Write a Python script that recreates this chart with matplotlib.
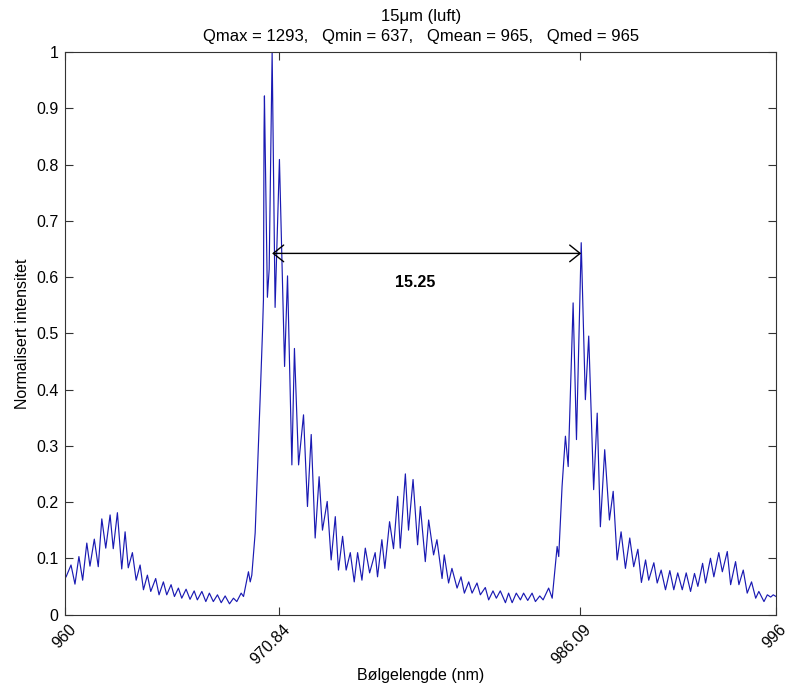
import numpy as np
import matplotlib.pyplot as plt
import matplotlib.transforms as mtransforms

plt.rcParams['font.family'] = ['Liberation Sans', 'DejaVu Sans']

wl = [960.03, 960.28, 960.48, 960.68, 960.87, 961.08, 961.24, 961.46, 961.66, 961.84,
      962.04, 962.26, 962.42, 962.63, 962.85, 963.02, 963.18, 963.39, 963.58, 963.78,
      963.95, 964.15, 964.32, 964.57, 964.74, 964.96, 965.13, 965.35, 965.52, 965.72,
      965.89, 966.11, 966.31, 966.52, 966.68, 966.91, 967.11, 967.29, 967.49, 967.70,
      967.89, 968.09, 968.31, 968.51, 968.68, 968.90, 969.02, 969.27, 969.36, 969.44,
      969.61, 969.75, 969.86, 969.98, 970.03, 970.06, 970.08, 970.23, 970.32, 970.47,
      970.62, 970.84, 971.10, 971.25, 971.47, 971.60, 971.81, 972.06, 972.26, 972.45,
      972.65, 972.85, 973.02, 973.26, 973.46, 973.67, 973.83, 974.04, 974.22, 974.43,
      974.63, 974.80, 975.02, 975.19, 975.41, 975.69, 975.81, 976.03, 976.18, 976.42,
      976.62, 976.83, 976.96, 977.22, 977.38, 977.61, 977.84, 977.98, 978.23, 978.40,
      978.65, 978.82, 979.08, 979.19, 979.41, 979.58, 979.84, 980.04, 980.21, 980.43,
      980.60, 980.85, 981.02, 981.27, 981.44, 981.66, 981.83, 982.03, 982.29, 982.45,
      982.63, 982.84, 983.05, 983.21, 983.42, 983.64, 983.81, 984.03, 984.20, 984.48,
      984.66, 984.91, 984.99, 985.16, 985.33, 985.47, 985.72, 985.89, 986.13, 986.34,
      986.51, 986.76, 986.94, 987.10, 987.32, 987.56, 987.75, 987.95, 988.15, 988.37,
      988.59, 988.79, 989.00, 989.18, 989.39, 989.55, 989.81, 989.98, 990.18, 990.40,
      990.62, 990.82, 991.02, 991.25, 991.45, 991.67, 991.87, 992.04, 992.28, 992.43,
      992.68, 992.85, 993.10, 993.28, 993.53, 993.70, 993.95, 994.12, 994.34, 994.54,
      994.76, 994.97, 995.13, 995.39, 995.56, 995.73, 995.86, 996.00]

intensity = [0.067, 0.088, 0.054, 0.103, 0.061, 0.127, 0.086, 0.134, 0.085, 0.170,
             0.118, 0.177, 0.117, 0.181, 0.081, 0.147, 0.083, 0.110, 0.061, 0.088,
             0.044, 0.070, 0.041, 0.064, 0.035, 0.058, 0.035, 0.053, 0.032, 0.047,
             0.029, 0.045, 0.027, 0.042, 0.026, 0.041, 0.023, 0.038, 0.023, 0.035,
             0.021, 0.033, 0.019, 0.029, 0.023, 0.038, 0.032, 0.076, 0.058, 0.070,
             0.145, 0.275, 0.382, 0.501, 0.560, 0.858, 0.922, 0.564, 0.614, 1.000,
             0.546, 0.809, 0.441, 0.602, 0.266, 0.473, 0.266, 0.355, 0.192, 0.320,
             0.136, 0.245, 0.150, 0.201, 0.097, 0.174, 0.079, 0.139, 0.079, 0.110,
             0.058, 0.110, 0.061, 0.118, 0.074, 0.110, 0.067, 0.133, 0.082, 0.165,
             0.117, 0.210, 0.118, 0.250, 0.150, 0.240, 0.124, 0.192, 0.094, 0.168,
             0.106, 0.133, 0.064, 0.106, 0.056, 0.082, 0.047, 0.067, 0.038, 0.058,
             0.038, 0.056, 0.035, 0.048, 0.026, 0.042, 0.029, 0.042, 0.021, 0.038,
             0.021, 0.038, 0.026, 0.038, 0.025, 0.038, 0.023, 0.033, 0.026, 0.047,
             0.029, 0.121, 0.103, 0.228, 0.317, 0.263, 0.554, 0.311, 0.661, 0.382,
             0.495, 0.222, 0.358, 0.156, 0.293, 0.168, 0.219, 0.097, 0.147, 0.082,
             0.136, 0.085, 0.116, 0.057, 0.097, 0.061, 0.092, 0.056, 0.079, 0.044,
             0.078, 0.044, 0.074, 0.044, 0.074, 0.041, 0.073, 0.050, 0.091, 0.056,
             0.100, 0.067, 0.110, 0.076, 0.112, 0.053, 0.094, 0.053, 0.079, 0.038,
             0.058, 0.029, 0.041, 0.023, 0.035, 0.031, 0.035, 0.032]

xticks = [960, 970.84, 986.09, 996]
xticklabels = ['960', '970.84', '986.09', '996']
yticks = [0, 0.1, 0.2, 0.3, 0.4, 0.5, 0.6, 0.7, 0.8, 0.9, 1]
yticklabels = ['0', '0.1', '0.2', '0.3', '0.4', '0.5', '0.6', '0.7', '0.8', '0.9', '1']

arrow_x = [970.47, 986.13]
arrow_y = 0.642
fsr_text = '15.25'

title1 = '15\u03bcm (luft)'
title2 = 'Qmax = 1293,   Qmin = 637,   Qmean = 965,   Qmed = 965'

fig = plt.figure(figsize=(7.9, 6.91), dpi=100)
ax = fig.add_axes([0.0829, 0.1107, 0.8994, 0.814])

ax.plot(wl, intensity, color=(0.1, 0.1, 0.7), lw=0.85)

ax.set_xlim(960, 996)
ax.set_ylim(0, 1)
ax.set_xticks(xticks)
ax.set_yticks(yticks)
ax.set_yticklabels(yticklabels)
ax.set_xticklabels(xticklabels, rotation=45, ha='right', va='top',
                   rotation_mode='anchor')
ax.tick_params(direction='in', length=6, width=0.8, top=True, right=True,
               colors='#333333', labelcolor='black', labelsize=11.5)
ax.tick_params(axis='y', pad=5)
ax.tick_params(axis='x', pad=4)
for s in ax.spines.values():
    s.set_color('#333333')
    s.set_linewidth(0.8)

off = mtransforms.ScaledTranslation(3 / 100, -2 / 100, fig.dpi_scale_trans)
for lbl in ax.get_xticklabels():
    lbl.set_transform(lbl.get_transform() + off)

ax.annotate('', xy=(arrow_x[0], arrow_y), xytext=(arrow_x[1], arrow_y),
            arrowprops=dict(arrowstyle='<->,head_length=0.75,head_width=0.6',
                            color='black', lw=1.0, shrinkA=0, shrinkB=0))
ax.text(977.7, 0.59, fsr_text, ha='center', va='center', fontsize=11.5,
        fontweight='bold')

ax.set_xlabel('B\u00f8lgelengde (nm)', fontsize=11.5, va='center')
ax.xaxis.set_label_coords(0.5, -0.109)
ax.set_ylabel('Normalisert intensitet', fontsize=11.5, va='center')
ax.yaxis.set_label_coords(-0.061, 0.5)

cx = 0.0829 + 0.8994 / 2
fig.text(cx, 1 - 16.5 / 691, title1, ha='center', va='center', fontsize=12)
fig.text(cx, 1 - 36.5 / 691, title2, ha='center', va='center', fontsize=12)

fig.savefig('out.png', dpi=100)
